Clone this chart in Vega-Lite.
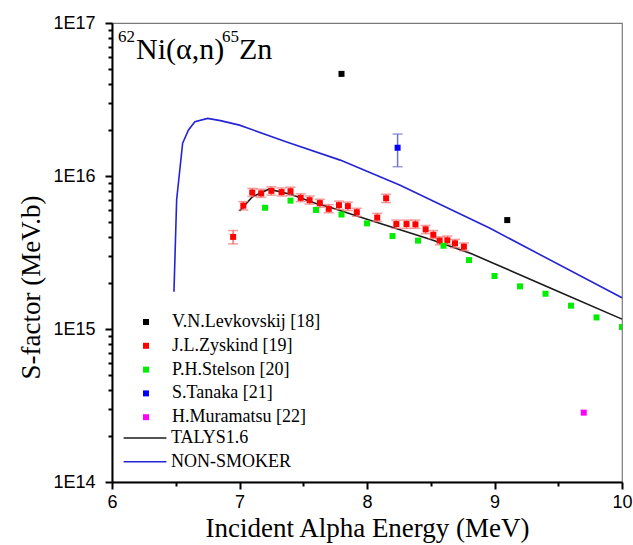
{
  "$schema": "https://vega.github.io/schema/vega-lite/v6.json",
  "width": 510,
  "height": 459,
  "autosize": {"type": "none"},
  "padding": {"left": 112, "top": 23, "right": 11, "bottom": 63},
  "background": "white",
  "config": {
    "view": {"stroke": "#7a7a7a", "strokeWidth": 1.2},
    "font": "Liberation Sans",
    "legend": {
      "labelFont": "Liberation Serif",
      "labelFontSize": 18,
      "labelColor": "black",
      "labelLimit": 400,
      "padding": 0,
      "rowPadding": 5.8,
      "orient": "none"
    }
  },
  "datasets": {
    "pts": [
      {"series": "V.N.Levkovskij [18]", "E": 7.80, "S": 4.65e16},
      {"series": "V.N.Levkovskij [18]", "E": 9.10, "S": 5.15e15},
      {"series": "S.Tanaka [21]", "E": 8.24, "S": 1.53e16, "lo": 1.15e16, "hi": 1.88e16},
      {"series": "H.Muramatsu [22]", "E": 9.70, "S": 2.84e14},
      {"series": "J.L.Zyskind [19]", "E": 6.95, "S": 4.0e15, "lo": 3.6e15, "hi": 4.4e15},
      {"series": "J.L.Zyskind [19]", "E": 7.03, "S": 6.4e15, "lo": 6.0e15, "hi": 6.8e15},
      {"series": "J.L.Zyskind [19]", "E": 7.10, "S": 7.8e15, "lo": 7.35e15, "hi": 8.3e15},
      {"series": "J.L.Zyskind [19]", "E": 7.17, "S": 7.7e15, "lo": 7.25e15, "hi": 8.2e15},
      {"series": "J.L.Zyskind [19]", "E": 7.25, "S": 8.0e15, "lo": 7.5e15, "hi": 8.5e15},
      {"series": "J.L.Zyskind [19]", "E": 7.33, "S": 7.85e15, "lo": 7.4e15, "hi": 8.35e15},
      {"series": "J.L.Zyskind [19]", "E": 7.40, "S": 7.95e15, "lo": 7.45e15, "hi": 8.45e15},
      {"series": "J.L.Zyskind [19]", "E": 7.48, "S": 7.2e15, "lo": 6.8e15, "hi": 7.65e15},
      {"series": "J.L.Zyskind [19]", "E": 7.55, "S": 6.95e15, "lo": 6.55e15, "hi": 7.4e15},
      {"series": "J.L.Zyskind [19]", "E": 7.63, "S": 6.65e15, "lo": 6.25e15, "hi": 7.05e15},
      {"series": "J.L.Zyskind [19]", "E": 7.70, "S": 6.1e15, "lo": 5.75e15, "hi": 6.5e15},
      {"series": "J.L.Zyskind [19]", "E": 7.78, "S": 6.45e15, "lo": 6.05e15, "hi": 6.85e15},
      {"series": "J.L.Zyskind [19]", "E": 7.85, "S": 6.35e15, "lo": 5.95e15, "hi": 6.75e15},
      {"series": "J.L.Zyskind [19]", "E": 7.92, "S": 5.8e15, "lo": 5.45e15, "hi": 6.15e15},
      {"series": "J.L.Zyskind [19]", "E": 8.08, "S": 5.35e15, "lo": 5.05e15, "hi": 5.7e15},
      {"series": "J.L.Zyskind [19]", "E": 8.15, "S": 7.15e15, "lo": 6.7e15, "hi": 7.6e15},
      {"series": "J.L.Zyskind [19]", "E": 8.23, "S": 4.85e15, "lo": 4.55e15, "hi": 5.15e15},
      {"series": "J.L.Zyskind [19]", "E": 8.31, "S": 4.85e15, "lo": 4.55e15, "hi": 5.15e15},
      {"series": "J.L.Zyskind [19]", "E": 8.38, "S": 4.83e15, "lo": 4.55e15, "hi": 5.15e15},
      {"series": "J.L.Zyskind [19]", "E": 8.46, "S": 4.48e15, "lo": 4.2e15, "hi": 4.75e15},
      {"series": "J.L.Zyskind [19]", "E": 8.52, "S": 4.13e15, "lo": 3.9e15, "hi": 4.4e15},
      {"series": "J.L.Zyskind [19]", "E": 8.57, "S": 3.78e15, "lo": 3.55e15, "hi": 4.0e15},
      {"series": "J.L.Zyskind [19]", "E": 8.63, "S": 3.8e15, "lo": 3.57e15, "hi": 4.05e15},
      {"series": "J.L.Zyskind [19]", "E": 8.69, "S": 3.63e15, "lo": 3.4e15, "hi": 3.85e15},
      {"series": "J.L.Zyskind [19]", "E": 8.76, "S": 3.45e15, "lo": 3.25e15, "hi": 3.65e15},
      {"series": "P.H.Stelson [20]", "E": 7.2, "S": 6.2e15},
      {"series": "P.H.Stelson [20]", "E": 7.4, "S": 6.9e15},
      {"series": "P.H.Stelson [20]", "E": 7.6, "S": 6.0e15},
      {"series": "P.H.Stelson [20]", "E": 7.8, "S": 5.6e15},
      {"series": "P.H.Stelson [20]", "E": 8.0, "S": 4.9e15},
      {"series": "P.H.Stelson [20]", "E": 8.2, "S": 4.05e15},
      {"series": "P.H.Stelson [20]", "E": 8.4, "S": 3.78e15},
      {"series": "P.H.Stelson [20]", "E": 8.6, "S": 3.5e15},
      {"series": "P.H.Stelson [20]", "E": 8.8, "S": 2.82e15},
      {"series": "P.H.Stelson [20]", "E": 9.0, "S": 2.22e15},
      {"series": "P.H.Stelson [20]", "E": 9.2, "S": 1.9e15},
      {"series": "P.H.Stelson [20]", "E": 9.4, "S": 1.7e15},
      {"series": "P.H.Stelson [20]", "E": 9.6, "S": 1.42e15},
      {"series": "P.H.Stelson [20]", "E": 9.8, "S": 1.19e15},
      {"series": "P.H.Stelson [20]", "E": 10.0, "S": 1.03e15}
    ],
    "lines": [
      {"model": "TALYS1.6", "E": 7.0, "S": 5.9e15},
      {"model": "TALYS1.6", "E": 7.1, "S": 7.3e15},
      {"model": "TALYS1.6", "E": 7.23, "S": 8.2e15},
      {"model": "TALYS1.6", "E": 7.4, "S": 7.6e15},
      {"model": "TALYS1.6", "E": 7.6, "S": 6.6e15},
      {"model": "TALYS1.6", "E": 7.71, "S": 6.24e15},
      {"model": "TALYS1.6", "E": 8.0, "S": 5.22e15},
      {"model": "TALYS1.6", "E": 8.5, "S": 3.85e15},
      {"model": "TALYS1.6", "E": 8.81, "S": 3.13e15},
      {"model": "TALYS1.6", "E": 9.0, "S": 2.67e15},
      {"model": "TALYS1.6", "E": 9.5, "S": 1.76e15},
      {"model": "TALYS1.6", "E": 10.0, "S": 1.16e15},
      {"model": "NON-SMOKER", "E": 6.486, "S": 1.75e15},
      {"model": "NON-SMOKER", "E": 6.507, "S": 7.0e15},
      {"model": "NON-SMOKER", "E": 6.554, "S": 1.64e16},
      {"model": "NON-SMOKER", "E": 6.60, "S": 2.0e16},
      {"model": "NON-SMOKER", "E": 6.65, "S": 2.26e16},
      {"model": "NON-SMOKER", "E": 6.75, "S": 2.38e16},
      {"model": "NON-SMOKER", "E": 6.85, "S": 2.30e16},
      {"model": "NON-SMOKER", "E": 7.0, "S": 2.15e16},
      {"model": "NON-SMOKER", "E": 7.37, "S": 1.67e16},
      {"model": "NON-SMOKER", "E": 7.79, "S": 1.27e16},
      {"model": "NON-SMOKER", "E": 8.26, "S": 8.7e15},
      {"model": "NON-SMOKER", "E": 8.965, "S": 4.55e15},
      {"model": "NON-SMOKER", "E": 10.0, "S": 1.6e15}
    ]
  },
  "layer": [
    {
      "data": {"name": "lines"},
      "mark": {"type": "line", "strokeWidth": 1.6},
      "encoding": {
        "x": {
          "field": "E", "type": "quantitative",
          "title": "Incident Alpha Energy (MeV)",
          "scale": {"domain": [6, 10], "nice": false, "zero": false},
          "axis": {
            "values": [6, 6.5, 7, 7.5, 8, 8.5, 9, 9.5, 10],
            "labelExpr": "datum.value % 1 == 0 ? format(datum.value, 'd') : ''",
            "labelFlush": false,
            "labelOverlap": false,
            "labelFont": "Liberation Sans",
            "labelFontSize": 18,
            "labelColor": "black",
            "labelPadding": 4,
            "tickSize": {"condition": {"test": "datum.value % 1 == 0", "value": 7}, "value": 4},
            "tickWidth": 2,
            "tickColor": "black",
            "domainColor": "black",
            "domainWidth": 2,
            "grid": false,
            "titleFont": "Liberation Serif",
            "titleFontSize": 27,
            "titleFontWeight": "normal",
            "titleColor": "black",
            "titleBaseline": "middle",
            "titleY": 46
          }
        },
        "y": {
          "field": "S", "type": "quantitative",
          "title": "S-factor (MeV.b)",
          "scale": {"type": "log", "domain": [1e14, 1e17], "nice": false, "zero": false},
          "axis": {
            "values": [1e14, 2e14, 3e14, 4e14, 5e14, 6e14, 7e14, 8e14, 9e14, 1e15, 2e15, 3e15, 4e15, 5e15, 6e15, 7e15, 8e15, 9e15, 1e16, 2e16, 3e16, 4e16, 5e16, 6e16, 7e16, 8e16, 9e16, 1e17],
            "labelExpr": "abs(log(datum.value)/LN10 - round(log(datum.value)/LN10)) < 0.001 ? '1E' + round(log(datum.value)/LN10) : ''",
            "labelFlush": false,
            "labelOverlap": false,
            "labelFont": "Liberation Sans",
            "labelFontSize": 18,
            "labelColor": "black",
            "labelPadding": 10,
            "tickSize": {"condition": {"test": "abs(log(datum.value)/LN10 - round(log(datum.value)/LN10)) < 0.001", "value": 7}, "value": 4},
            "tickWidth": 2,
            "tickColor": "black",
            "domainColor": "black",
            "domainWidth": 2,
            "grid": false,
            "titleFont": "Liberation Serif",
            "titleFontSize": 27,
            "titleFontWeight": "normal",
            "titleColor": "black",
            "titleBaseline": "middle",
            "titleX": -81,
            "titleY": 264
          }
        },
        "stroke": {
          "field": "model", "type": "nominal",
          "scale": {"domain": ["TALYS1.6", "NON-SMOKER"], "range": ["#1a1a1a", "#2424d6"]},
          "legend": {
            "title": null,
            "symbolType": "M-3,0H3",
            "symbolSize": 203,
            "symbolStrokeWidth": 1.6,
            "labelOffset": 17,
            "legendX": 24,
            "legendY": 406
          }
        }
      }
    },
    {
      "data": {"name": "pts"},
      "transform": [{"filter": "datum.series == 'J.L.Zyskind [19]'"}],
      "mark": {"type": "errorbar", "ticks": true, "size": 10, "thickness": 1.5, "color": "#f07070"},
      "encoding": {
        "x": {"field": "E", "type": "quantitative", "title": "Incident Alpha Energy (MeV)"},
        "y": {"field": "lo", "type": "quantitative", "title": "S-factor (MeV.b)"},
        "y2": {"field": "hi"}
      }
    },
    {
      "data": {"name": "pts"},
      "transform": [{"filter": "datum.series == 'S.Tanaka [21]'"}],
      "mark": {"type": "errorbar", "ticks": true, "size": 10, "thickness": 1.5, "color": "#7070cc"},
      "encoding": {
        "x": {"field": "E", "type": "quantitative", "title": "Incident Alpha Energy (MeV)"},
        "y": {"field": "lo", "type": "quantitative", "title": "S-factor (MeV.b)"},
        "y2": {"field": "hi"}
      }
    },
    {
      "data": {"name": "pts"},
      "mark": {"type": "square", "size": 36, "filled": true, "opacity": 1, "clip": true},
      "encoding": {
        "x": {"field": "E", "type": "quantitative", "title": "Incident Alpha Energy (MeV)"},
        "y": {"field": "S", "type": "quantitative", "title": "S-factor (MeV.b)"},
        "fill": {
          "field": "series", "type": "nominal",
          "scale": {
            "domain": ["V.N.Levkovskij [18]", "J.L.Zyskind [19]", "P.H.Stelson [20]", "S.Tanaka [21]", "H.Muramatsu [22]"],
            "range": ["#000000", "#ff0000", "#00ee00", "#0000ff", "#ff00ff"]
          },
          "legend": {
            "title": null,
            "symbolType": "square",
            "symbolSize": 36,
            "symbolStrokeWidth": 0,
            "labelOffset": 17,
            "legendX": 25,
            "legendY": 290
          }
        }
      }
    },
    {
      "data": {"values": [{}]},
      "mark": {"type": "text", "text": "62", "font": "Liberation Serif", "fontSize": 17, "align": "left", "baseline": "alphabetic", "dx": 6, "dy": 19, "color": "black"},
      "encoding": {
        "x": {"datum": 6, "type": "quantitative"},
        "y": {"datum": 1e17, "type": "quantitative"}
      }
    },
    {
      "data": {"values": [{}]},
      "mark": {"type": "text", "text": "Ni(α,n)", "font": "Liberation Serif", "fontSize": 30, "align": "left", "baseline": "alphabetic", "dx": 24, "dy": 36, "color": "black"},
      "encoding": {
        "x": {"datum": 6, "type": "quantitative"},
        "y": {"datum": 1e17, "type": "quantitative"}
      }
    },
    {
      "data": {"values": [{}]},
      "mark": {"type": "text", "text": "65", "font": "Liberation Serif", "fontSize": 17, "align": "left", "baseline": "alphabetic", "dx": 110, "dy": 19, "color": "black"},
      "encoding": {
        "x": {"datum": 6, "type": "quantitative"},
        "y": {"datum": 1e17, "type": "quantitative"}
      }
    },
    {
      "data": {"values": [{}]},
      "mark": {"type": "text", "text": "Zn", "font": "Liberation Serif", "fontSize": 30, "align": "left", "baseline": "alphabetic", "dx": 127, "dy": 36, "color": "black"},
      "encoding": {
        "x": {"datum": 6, "type": "quantitative"},
        "y": {"datum": 1e17, "type": "quantitative"}
      }
    }
  ]
}
